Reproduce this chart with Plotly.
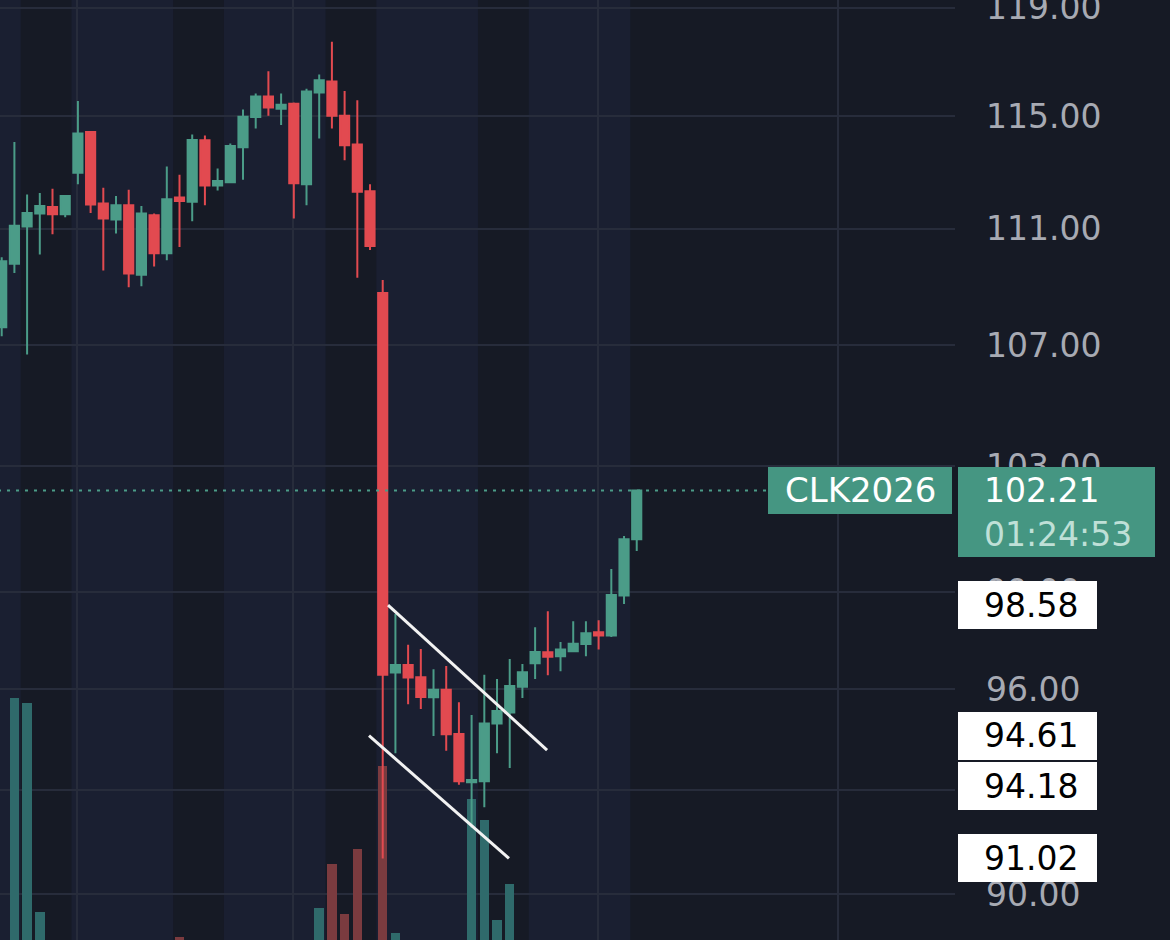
import math
import plotly.graph_objects as go

# ---------------- data ----------------
bar_index = list(range(51))
opens = [107.60, 109.78, 111.07, 111.53, 111.76, 111.50, 112.97, 114.43, 111.88, 111.32,
         111.82, 109.40, 111.47, 110.14, 112.09, 111.94, 114.13, 112.52, 112.63, 113.88,
         114.97, 115.72, 115.27, 115.45, 112.56, 115.86, 116.27, 115.02, 113.98, 112.31,
         108.77, 96.51, 96.74, 96.37, 95.76, 95.99, 94.66, 93.23, 93.26, 94.97,
         95.30, 96.08, 96.79, 97.13, 97.01, 97.16, 97.38, 97.74, 97.64, 98.88, 100.65]
highs = [110.00, 114.07, 112.20, 112.25, 112.40, 112.15, 115.55, 114.45, 112.44, 112.15,
         112.37, 111.79, 111.53, 113.19, 112.90, 114.34, 114.30, 113.12, 114.02, 115.24,
         115.83, 116.64, 115.83, 115.50, 116.00, 116.52, 117.73, 115.92, 115.58, 112.56,
         109.22, 98.31, 97.36, 97.23, 96.61, 96.71, 95.61, 95.23, 96.44, 96.31,
         96.92, 96.77, 97.90, 98.39, 97.44, 98.08, 98.08, 98.11, 99.71, 100.75, 102.21]
lows = [107.30, 109.46, 106.68, 110.10, 110.80, 111.40, 112.56, 111.55, 109.54, 110.83,
        108.97, 109.00, 109.68, 109.90, 110.36, 111.26, 111.82, 112.34, 112.60, 112.72,
        114.56, 115.02, 114.68, 111.35, 111.82, 114.20, 114.56, 113.42, 109.29, 110.25,
        91.02, 94.09, 95.55, 95.41, 94.60, 94.16, 93.16, 91.90, 92.50, 94.09,
        93.65, 95.74, 96.31, 96.43, 96.55, 97.14, 97.01, 97.21, 97.60, 98.62, 100.28]
closes = [109.86, 111.10, 111.55, 111.79, 111.50, 112.15, 114.38, 111.85, 111.35, 111.82,
          109.44, 111.53, 110.14, 112.03, 111.97, 114.14, 112.52, 112.68, 113.93, 114.98,
          115.72, 115.32, 115.42, 112.60, 115.90, 116.31, 115.02, 113.95, 112.30, 110.39,
          96.44, 96.74, 96.36, 95.77, 95.99, 94.65, 93.26, 93.30, 94.97, 95.35,
          96.10, 96.52, 97.14, 96.99, 97.21, 97.39, 97.71, 97.64, 98.90, 100.65, 102.21]
volumes = [80, 342, 337, 128, 70, 60, 85, 75, 70, 55,
           80, 70, 60, 75, 103, 80, 85, 60, 65, 75,
           70, 80, 60, 90, 95, 132, 176, 126, 191, 95,
           274, 107, 90, 85, 80, 95, 98, 241, 220, 120,
           156, 80, 75, 70, 60, 55, 60, 50, 85, 90, 70]

symbol = "CLK2026"
countdown = "01:24:53"

# trend channel drawn on the chart (bar index, price)
upper_line_x = [30.42, 42.94]
upper_line_y = [98.58, 94.18]
lower_line_x = [28.92, 39.94]
lower_line_y = [94.61, 91.02]

# price-axis ticks
tick_vals = [90, 93, 96, 99, 103, 107, 111, 115, 119]
tick_text = ["90.00", "93.00", "96.00", "99.00", "103.00", "107.00", "111.00", "115.00", "119.00"]

# session shading (bar index ranges of the lighter sessions)
light_sessions = [(-6.5, 1.5), (5.5, 13.5), (17.5, 25.5), (29.5, 37.5), (41.5, 49.5)]
# vertical time grid positions (bar index)
time_grid = [5.93, 22.9, 46.95, 65.85]

# ---------------- style ----------------
FONT = "DejaVu Sans"
FS = 33
UP = "#4b9c88"
DN = "#e24a50"
UP_VOL = "#2f6a6b"
DN_VOL = "#7b3b3f"
BG_DARK = "#161a25"
BG_LIGHT = "#1a1f31"
GRID = "#272c3b"
TICK = "#a7aab3"
LABEL_GREEN = "#459682"

vol_colors = [UP_VOL if c >= o else DN_VOL for o, c in zip(opens, closes)]

fig = go.Figure()

fig.add_trace(go.Bar(
    x=bar_index, y=volumes, marker=dict(color=vol_colors, line=dict(width=0)),
    width=0.75, yaxis="y", hoverinfo="skip", showlegend=False))

fig.add_trace(go.Candlestick(
    x=bar_index, open=opens, high=highs, low=lows, close=closes, yaxis="y2",
    increasing=dict(line=dict(color=UP, width=2), fillcolor=UP),
    decreasing=dict(line=dict(color=DN, width=2), fillcolor=DN),
    whiskerwidth=0, showlegend=False))

for lx, ly in [(upper_line_x, upper_line_y), (lower_line_x, lower_line_y)]:
    fig.add_trace(go.Scatter(x=lx, y=ly, yaxis="y2", mode="lines",
                             line=dict(color="#f2f2f2", width=3), hoverinfo="skip",
                             showlegend=False))

last_price = closes[-1]
fig.add_trace(go.Scatter(x=[-1, 60.3], y=[last_price, last_price], yaxis="y2", mode="lines",
                         line=dict(color=UP, width=2, dash="3px,6px"), hoverinfo="skip",
                         showlegend=False))

shapes = []
for a, b in light_sessions:
    shapes.append(dict(type="rect", xref="x", yref="paper", x0=a, x1=b, y0=0, y1=1,
                       fillcolor=BG_LIGHT, line=dict(width=0), layer="below"))

annotations = []


def label_box(price, xshift, width, height, yshift, color):
    return dict(xref="paper", x=1, xanchor="left", xshift=xshift,
                yref="y2", y=math.log10(price), yanchor="middle", yshift=yshift,
                text=" ", width=width, height=height, bgcolor=color,
                borderpad=0, borderwidth=0, showarrow=False, font=dict(size=4))


def label_text(price, text, color, xshift=27, yshift=0, anchor="left", size=FS):
    return dict(xref="paper", x=1, xanchor=anchor, xshift=xshift,
                yref="y2", y=math.log10(price), yanchor="middle", yshift=yshift,
                text=text, showarrow=False, font=dict(family=FONT, size=size, color=color))


# current price: symbol tag + price/countdown tag
annotations.append(label_box(last_price, -187, 184, 47, 0, LABEL_GREEN))
annotations.append(label_box(last_price, 3, 197, 90, -22, LABEL_GREEN))
annotations.append(label_text(last_price, symbol, "#ffffff", xshift=-94, anchor="center", size=34))
annotations.append(label_text(last_price, f"{last_price:.2f}", "#ffffff"))
annotations.append(label_text(last_price, countdown, "#bfe0d7", yshift=-44))

# trend-line endpoint labels (value, vertical pixel shift for stacking)
endpoint_labels = [(upper_line_y[0], 0), (lower_line_y[0], 0), (upper_line_y[1], -36),
                   (lower_line_y[1], 0)]
for val, shift in endpoint_labels:
    annotations.append(label_box(val, 3, 139, 48, shift, "#ffffff"))
    annotations.append(label_text(val, f"{val:.2f}", "#000000", yshift=shift))

fig.update_layout(
    width=1170, height=940,
    margin=dict(l=0, r=215, t=0, b=0, pad=0, autoexpand=False),
    paper_bgcolor=BG_DARK, plot_bgcolor=BG_DARK,
    showlegend=False, bargap=0, boxgap=0.15, boxgroupgap=0.15,
    font=dict(family=FONT),
    xaxis=dict(range=[-0.134, 75.06], showticklabels=False, tickvals=time_grid,
               showgrid=True, gridcolor=GRID, gridwidth=2, zeroline=False,
               showline=False, ticks="", rangeslider=dict(visible=False),
               automargin=False),
    yaxis=dict(range=[100, 1040], visible=False, showgrid=False, zeroline=False,
               automargin=False),
    yaxis2=dict(overlaying="y", side="right", anchor="x", type="log",
                range=[math.log10(88.71), math.log10(119.29)],
                tickvals=tick_vals, ticktext=tick_text,
                tickfont=dict(family=FONT, size=FS, color=TICK),
                showgrid=True, gridcolor=GRID, gridwidth=2, zeroline=False,
                showline=False, ticks="", ticklabelstandoff=30,
                ticklabeloverflow="allow", automargin=False),
    shapes=shapes, annotations=annotations,
)

fig.write_html("out.html", config={"displayModeBar": False},
               post_script="document.body.style.margin='0px';")
